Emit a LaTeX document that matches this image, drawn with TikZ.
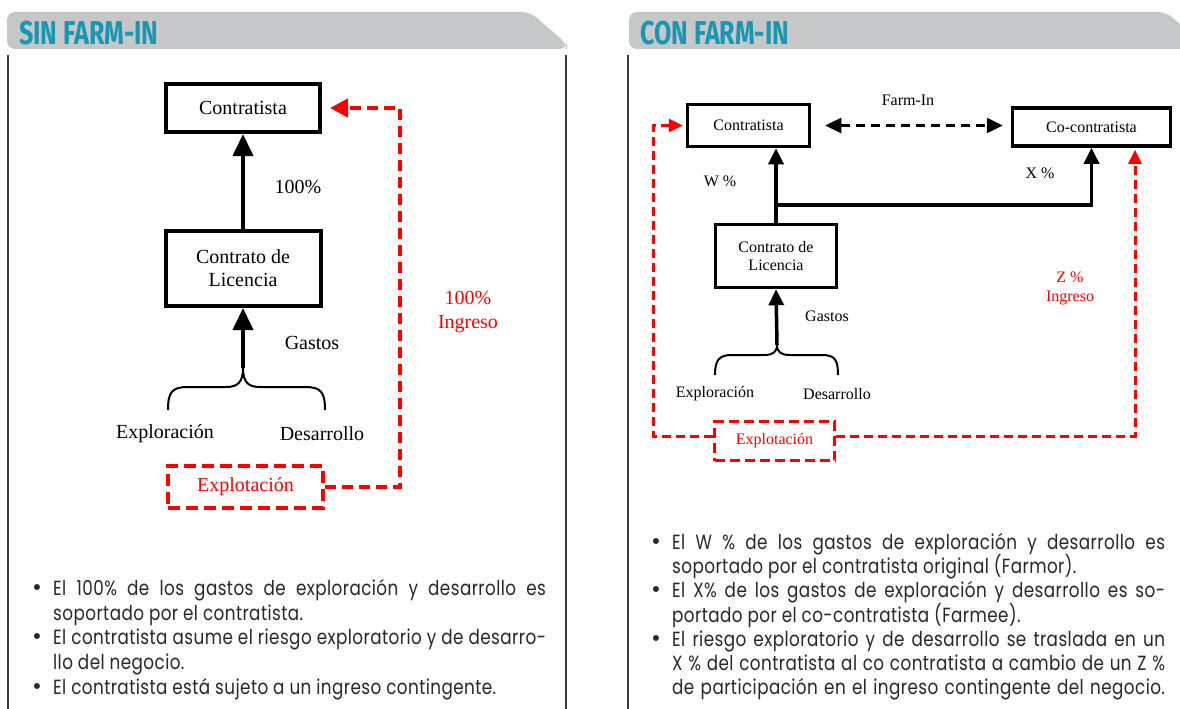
\documentclass[tikz,border=0pt]{standalone}
\usepackage{fontspec}
\setmainfont{Liberation Serif}
\newfontfamily\popfont{Poppins}[LetterSpace=2.5]
\newfontfamily\hdfont{Fira Sans}
\usetikzlibrary{arrows.meta}
\definecolor{tabgray}{RGB}{198,199,201}
\definecolor{tealhd}{RGB}{24,150,178}
\definecolor{txtgray}{RGB}{40,40,40}
\definecolor{framegray}{RGB}{60,60,60}
\newcommand{\fullline}[1]{\scalebox{0.82}[1]{\makebox[601pt][s]{#1}}}
\newcommand{\partline}[1]{\scalebox{0.82}[1]{#1}}
\begin{document}
\begin{tikzpicture}[x=1pt,y=-1pt,
  boxL/.style={draw, line width=4pt, inner sep=0pt, align=center, font=\fontsize{20}{23}\selectfont},
  boxR/.style={draw, line width=3.5pt, inner sep=0pt, align=center, font=\fontsize{16}{18}\selectfont},
  txtL/.style={font=\fontsize{20}{24}\selectfont, align=center, inner sep=0pt},
  txtR/.style={font=\fontsize{16}{19}\selectfont, align=center, inner sep=0pt},
  arrL/.style={line width=4pt, -{Triangle[length=22pt,width=20pt]}},
  arrR/.style={line width=3.5pt, -{Triangle[length=16pt,width=15pt]}},
  redL/.style={draw=red, line width=4pt, dash pattern=on 11pt off 6pt},
  redR/.style={draw=red, line width=3pt, dash pattern=on 9pt off 5pt},
  redtipL/.style={-{Triangle[length=18pt,width=18pt]}},
  redtipR/.style={-{Triangle[length=14pt,width=13pt]}},
  brace/.style={line width=2pt},
  hd/.style={anchor=base west, text=tealhd, inner sep=0pt, font=\hdfont\bfseries\fontsize{33}{33}\selectfont},
  bul/.style={anchor=base west, inner sep=0pt, text=txtgray, font=\popfont\fontsize{20.5}{24}\selectfont},
  dot/.style={anchor=base, inner sep=0pt, text=txtgray, font=\popfont\fontsize{24}{26}\selectfont},
  frame/.style={draw=framegray, line width=1.3pt}
]
\useasboundingbox (0,0) rectangle (1180,709);
\fill[white] (0,0) rectangle (1180,709);

% ---------- headers ----------
\begin{scope}
\clip (0,0) rectangle (1180,709);
\fill[tabgray, rounded corners=8pt] (7,49) -- (7,12) -- (530,12) -- (567,44) -- (567,49) -- cycle;
\fill[tabgray, rounded corners=8pt] (629,49) -- (629,12) -- (1166,12) -- (1203,44) -- (1203,49) -- cycle;
\end{scope}
\node[hd] (hsin) at (19,45) {\scalebox{0.76}[1]{SIN FARM-IN}};
\node[hd] (hcon) at (640,45) {\scalebox{0.76}[1]{CON FARM-IN}};

% ---------- frames ----------
\draw[frame] (8,55) -- (8,709);
\draw[frame] (566,55) -- (566,709);
\draw[frame] (628,55) -- (628,709);

% ---------- left diagram ----------
\node[boxL, minimum width=154pt, minimum height=48pt] (contL) at (243,108) {Contratista};
\node[boxL, minimum width=155pt, minimum height=75pt] (licL) at (243,268.5) {Contrato de\\Licencia};
\node[draw=red, line width=4pt, dash pattern=on 12pt off 6pt, minimum width=155pt, minimum height=42pt, inner sep=0pt,
      text=red, font=\fontsize{20}{24}\selectfont] (explL) at (245.5,487) {Explotación};
\draw[arrL] (licL.north) -- (contL.south);
\node[txtL] (pL) at (298,187) {100\%};
\coordinate (bjL) at (243,368);
\draw[brace] (168,410) .. controls (168,392) and (172,387) .. (188,387) -- (226,387)
   .. controls (238,387) and (243,382) .. (bjL)
   .. controls (243,382) and (248,387) .. (260,387) -- (305,387)
   .. controls (321,387) and (325,392) .. (325,410);
\draw[arrL] (bjL) -- (licL.south);
\node[txtL] (gL) at (312,343) {Gastos};
\node[txtL] (exL) at (165,434) {Exploración};
\node[txtL] (deL) at (322,434) {Desarrollo};
\draw[redL, redtipL, shorten >=8pt] (explL.east) -- (400,487) |- (contL.east);
\node[txtL, text=red] (ingL) at (468,312) {100\%\\Ingreso};

% ---------- right diagram ----------
\node[boxR, minimum width=122pt, minimum height=42pt] (contR) at (748.5,125.5) {Contratista};
\node[boxR, minimum width=158pt, minimum height=38pt] (cocR) at (1091.5,127) {Co-contratista};
\node[boxR, minimum width=121pt, minimum height=63pt] (licR) at (776,256) {Contrato de\\Licencia};
\node[draw=red, line width=3pt, dash pattern=on 10pt off 5pt, minimum width=120pt, minimum height=39pt, inner sep=0pt,
      text=red, font=\fontsize{16}{19}\selectfont] (explR) at (774.5,441) {Explotación};
\node[txtR] (farm) at (908,100) {Farm-In};
\draw[line width=2.5pt, dash pattern=on 9pt off 6pt, {Triangle[length=16pt,width=15pt]}-{Triangle[length=16pt,width=15pt]},
      shorten <=14pt, shorten >=8pt] (contR.east) -- (contR.east -| cocR.west);
\coordinate (split) at (776,205);
\draw[arrR] (licR.north) -- (licR.north |- contR.south);
\draw[line width=3.5pt, -{Triangle[length=16pt,width=15pt]}] (split) -| (cocR.south);
\node[txtR] (wR) at (720,181) {W \%};
\node[txtR] (xR) at (1040,173) {X \%};
\coordinate (bjR) at (777,345);
\draw[brace] (715,375) .. controls (715,360) and (719,355) .. (732,355) -- (764,355)
   .. controls (773,355) and (777,352) .. (bjR)
   .. controls (777,352) and (781,355) .. (790,355) -- (822,355)
   .. controls (835,355) and (838,360) .. (838,375);
\draw[arrR] (bjR) -- (licR.south);
\node[txtR] (gR) at (827,316) {Gastos};
\node[txtR] (exR) at (715,394) {Exploración};
\node[txtR] (deR) at (837,394) {Desarrollo};
\draw[redR, redtipR, shorten >=3pt] ([yshift=5pt]explR.west) -- (653,436) |- (contR.west);
\draw[redR, redtipR, shorten >=2pt] ([yshift=5pt]explR.east) -| ([xshift=43.5pt]cocR.south);
\node[txtR, text=red] (ingR) at (1070,288) {Z \%\\Ingreso};

% ---------- bullets left ----------
\node[dot] (bl1) at (37,595) {\textbullet};
\node[bul] (l1) at (53,595) {\fullline{El 100\% de los gastos de exploración y desarrollo es}};
\node[bul] (l2) at (53,620) {\partline{soportado por el contratista.}};
\node[dot] (bl2) at (37,644) {\textbullet};
\node[bul] (l3) at (53,644) {\fullline{El contratista asume el riesgo exploratorio y de desarro-}};
\node[bul] (l4) at (53,669) {\partline{llo del negocio.}};
\node[dot] (bl3) at (37,694) {\textbullet};
\node[bul] (l5) at (53,694) {\partline{El contratista está sujeto a un ingreso contingente.}};

% ---------- bullets right ----------
\node[dot] (br1) at (656,549) {\textbullet};
\node[bul] (r1) at (672,549) {\fullline{El W \% de los gastos de exploración y desarrollo es}};
\node[bul] (r2) at (672,573) {\partline{soportado por el contratista original (Farmor).}};
\node[dot] (br2) at (656,597) {\textbullet};
\node[bul] (r3) at (672,597) {\fullline{El X\% de los gastos de exploración y desarrollo es so-}};
\node[bul] (r4) at (672,622) {\partline{portado por el co-contratista (Farmee).}};
\node[dot] (br3) at (656,646) {\textbullet};
\node[bul] (r5) at (672,646) {\fullline{El riesgo exploratorio y de desarrollo se traslada en un}};
\node[bul] (r6) at (672,670) {\fullline{X \% del contratista al co contratista a cambio de un Z \%}};
\node[bul] (r7) at (672,694) {\fullline{de participación en el ingreso contingente del negocio.}};
\end{tikzpicture}
\end{document}
